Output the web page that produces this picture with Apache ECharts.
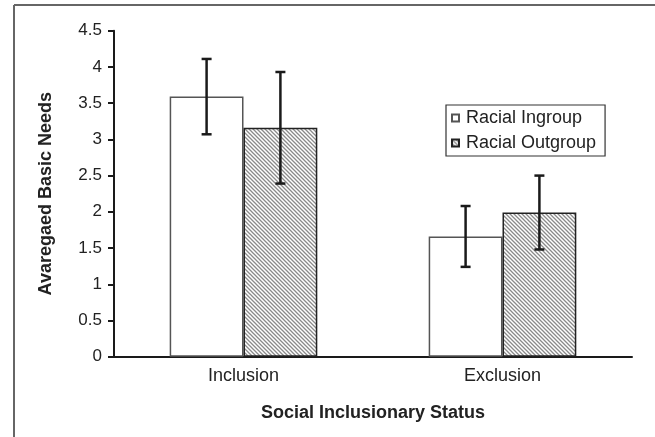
<!DOCTYPE html>
<html>
<head>
<meta charset="utf-8">
<script src="https://cdn.jsdelivr.net/npm/echarts@6/dist/echarts.min.js"></script>
<style>
html,body{margin:0;padding:0;background:#fff;}
#main{width:655px;height:437px;}
</style>
</head>
<body>
<div id="main"></div>
<script>
var categories = ['Inclusion', 'Exclusion'];
var seriesNames = ['Racial Ingroup', 'Racial Outgroup'];
var ingroupMeans = [3.59, 1.66];
var outgroupMeans = [3.16, 1.99];
var ingroupErr = [0.52, 0.42];
var outgroupErr = [0.77, 0.51];
var yTicks = [0, 0.5, 1, 1.5, 2, 2.5, 3, 3.5, 4, 4.5];

function makeHatch() {
  var c = document.createElement('canvas');
  var s = 4;
  c.width = s; c.height = s;
  var ctx = c.getContext('2d');
  ctx.fillStyle = '#ffffff';
  ctx.fillRect(0, 0, s, s);
  ctx.strokeStyle = '#8a8a8a';
  ctx.lineWidth = 1.3;
  ctx.beginPath();
  ctx.moveTo(-1, -1); ctx.lineTo(s + 1, s + 1);
  ctx.moveTo(-1, s - 1); ctx.lineTo(1, s + 1);
  ctx.moveTo(s - 1, -1); ctx.lineTo(s + 1, 1);
  ctx.stroke();
  return c;
}
var hatch = makeHatch();

var CAT_GAP = 0.43;

function errSeries(means, errs, sign) {
  return {
    type: 'custom',
    silent: true,
    z: 10,
    data: means.map(function (m, i) { return [i, m - errs[i], m + errs[i]]; }),
    renderItem: function (params, api) {
      var cat = api.value(0);
      var lo = api.coord([cat, api.value(1)]);
      var hi = api.coord([cat, api.value(2)]);
      var catW = api.size([1, 0])[0];
      var barW = catW * (1 - CAT_GAP) / 2;
      var x = lo[0] + sign * barW / 2;
      var cap = 5;
      var st = { stroke: '#1a1a1a', lineWidth: 2.5 };
      return {
        type: 'group',
        children: [
          { type: 'line', shape: { x1: x, y1: lo[1], x2: x, y2: hi[1] }, style: st },
          { type: 'line', shape: { x1: x - cap, y1: lo[1], x2: x + cap, y2: lo[1] }, style: st },
          { type: 'line', shape: { x1: x - cap, y1: hi[1], x2: x + cap, y2: hi[1] }, style: st }
        ]
      };
    }
  };
}

var chart = echarts.init(document.getElementById('main'));
var font = 'Liberation Sans, Arial, sans-serif';
chart.setOption({
  animation: false,
  backgroundColor: '#fff',
  textStyle: { fontFamily: font },
  graphic: [
    { type: 'line', shape: { x1: 14, y1: 5, x2: 655, y2: 5 }, style: { stroke: '#666', lineWidth: 2 } },
    { type: 'line', shape: { x1: 14, y1: 5, x2: 14, y2: 437 }, style: { stroke: '#666', lineWidth: 2 } }
  ],
  grid: { left: 114, right: 23, top: 30.7, bottom: 80.3 },
  legend: {
    orient: 'vertical',
    left: 446, top: 105,
    padding: [4, 9, 4, 5],
    itemGap: 7,
    itemWidth: 7, itemHeight: 7,
    icon: 'rect',
    borderColor: '#333', borderWidth: 1.2,
    textStyle: { fontSize: 18, color: '#222', fontFamily: font, padding: [0, 0, 0, 2] },
    data: seriesNames
  },
  xAxis: {
    type: 'category',
    data: categories,
    axisLine: { lineStyle: { color: '#1a1a1a', width: 2 } },
    axisTick: { length: 6, lineStyle: { color: '#1a1a1a', width: 2 } },
    axisLabel: { fontSize: 18, color: '#222', margin: 10, fontFamily: font },
    name: 'Social Inclusionary Status',
    nameLocation: 'middle',
    nameGap: 47,
    nameTextStyle: { fontSize: 18, fontWeight: 'bold', color: '#222', fontFamily: font }
  },
  yAxis: {
    type: 'value',
    min: 0, max: 4.5, interval: 0.5,
    axisLine: { show: true, lineStyle: { color: '#1a1a1a', width: 2 } },
    axisTick: { show: true, length: 6, lineStyle: { color: '#1a1a1a', width: 2 } },
    splitLine: { show: false },
    axisLabel: {
      fontSize: 17, color: '#222', margin: 12, fontFamily: font,
      formatter: function (v) { return yTicks.indexOf(v) >= 0 ? String(v) : ''; }
    },
    name: 'Avaregaed Basic Needs',
    nameLocation: 'middle',
    nameGap: 59,
    nameTextStyle: { fontSize: 18, fontWeight: 'bold', color: '#222', fontFamily: font }
  },
  series: [
    {
      name: seriesNames[0], type: 'bar', data: ingroupMeans,
      barGap: '0%', barCategoryGap: '43%',
      itemStyle: { color: '#fff', borderColor: '#555', borderWidth: 1.5 }
    },
    {
      name: seriesNames[1], type: 'bar', data: outgroupMeans,
      barGap: '0%', barCategoryGap: '43%',
      itemStyle: { color: { image: hatch, repeat: 'repeat' }, borderColor: '#222', borderWidth: 1.5 }
    },
    errSeries(ingroupMeans, ingroupErr, -1),
    errSeries(outgroupMeans, outgroupErr, 1)
  ]
});
</script>
</body>
</html>
